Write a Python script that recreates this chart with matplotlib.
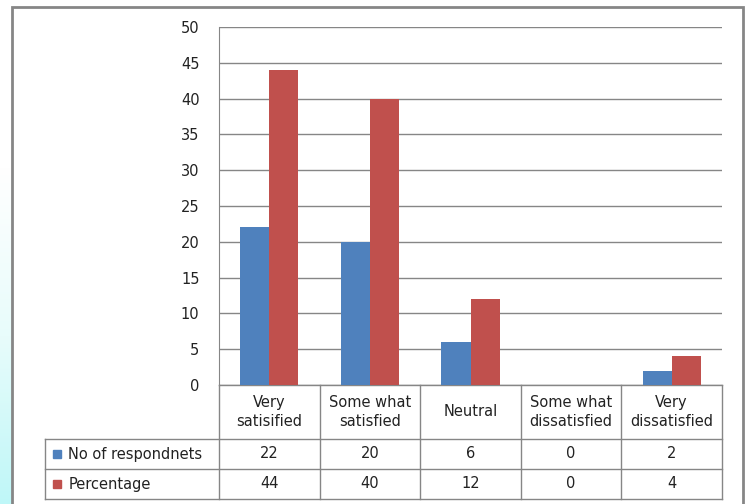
import numpy as np
import matplotlib.pyplot as plt
from matplotlib.patches import Rectangle
from matplotlib.colors import LinearSegmentedColormap

categories = ["Very\nsatisified", "Some what\nsatisfied", "Neutral",
              "Some what\ndissatisfied", "Very\ndissatisfied"]
series_names = ["No of respondnets", "Percentage"]
respondents = [22, 20, 6, 0, 2]
percentage = [44, 40, 12, 0, 4]
yticks = [0, 5, 10, 15, 20, 25, 30, 35, 40, 45, 50]

blue = "#4F81BD"
red = "#C0504D"
grid_c = "#868686"
txt_c = "#222222"
fs = 10.5
W, H = 749, 504

fig = plt.figure(figsize=(W / 100, H / 100), dpi=100)
fig.patch.set_facecolor("white")

# cyan gradient strip at the far left
grad = np.linspace(0, 1, 256).reshape(-1, 1)
bg = fig.add_axes([0, 0, 12 / W, 1])
cmap = LinearSegmentedColormap.from_list("c", ["#FFFFFF", "#FFFFFF", "#E8FCFB", "#BFF7F8"])
bg.imshow(grad, aspect="auto", cmap=cmap, extent=[0, 1, 1, 0])
bg.set_axis_off()

# outer chart border
fig.patches.append(Rectangle((11.5 / W, -0.02), (743 - 11.5) / W, 1 - 7 / H + 0.02,
                             transform=fig.transFigure, fill=False,
                             edgecolor=grid_c, linewidth=2))

left, right, top, bottom = 219, 722, 27, 385
ax = fig.add_axes([left / W, 1 - bottom / H, (right - left) / W, (bottom - top) / H])
x = np.arange(len(categories))
bw = 0.29
ax.bar(x - bw / 2, respondents, bw, color=blue, zorder=3)
ax.bar(x + bw / 2, percentage, bw, color=red, zorder=3)
ax.set_xlim(-0.5, len(categories) - 0.5)
ax.set_ylim(0, 50)
ax.set_yticks(yticks)
ax.set_yticklabels([str(v) for v in yticks], fontsize=fs, color=txt_c)
ax.tick_params(axis="y", length=0, pad=14)
ax.set_xticks([])
ax.yaxis.grid(True, color=grid_c, linewidth=1)
for s in ["top", "right", "bottom"]:
    ax.spines[s].set_visible(False)
ax.spines["left"].set_color(grid_c)

# data table below the axis
tr = ax.get_xaxis_transform()
ph = bottom - top
rows_y = [0, -(439 - bottom) / ph, -(469 - bottom) / ph, -(499 - bottom) / ph]
lab_x = (45 - left) / ((right - left) / len(categories)) - 0.5
n = len(categories)
kw = dict(transform=tr, color=grid_c, linewidth=1, clip_on=False)
ax.plot([-0.5, n - 0.5], [rows_y[0]] * 2, **kw)
for yv in rows_y[1:]:
    ax.plot([lab_x, n - 0.5], [yv] * 2, **kw)
for i in range(n + 1):
    ax.plot([i - 0.5] * 2, [rows_y[0], rows_y[3]], **kw)
ax.plot([lab_x] * 2, [rows_y[1], rows_y[3]], **kw)

tk = dict(transform=tr, fontsize=fs, color=txt_c, ha="center", va="center", clip_on=False)
for i, c in enumerate(categories):
    ax.text(i, (rows_y[0] + rows_y[1]) / 2, c, linespacing=1.4, **tk)
for r, (name, vals, col) in enumerate(zip(series_names, [respondents, percentage], [blue, red])):
    yc = (rows_y[r + 1] + rows_y[r + 2]) / 2
    for i, v in enumerate(vals):
        ax.text(i, yc, str(v), **tk)
    sq = lab_x + 0.08
    ax.add_patch(Rectangle((sq, yc - 0.012), 0.075, 0.024, transform=tr,
                           color=col, clip_on=False))
    ax.text(sq + 0.15, yc, name, transform=tr, fontsize=fs, color=txt_c,
            ha="left", va="center", clip_on=False)

fig.savefig("out.png", dpi=100)
